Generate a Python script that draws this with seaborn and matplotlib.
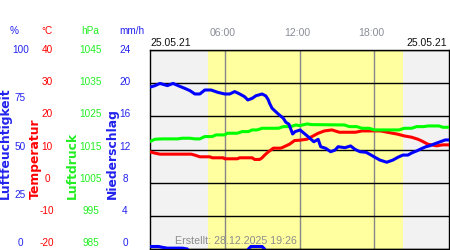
import matplotlib
matplotlib.use("Agg")
import matplotlib.pyplot as plt
import seaborn as sns
import pandas as pd
from matplotlib.transforms import ScaledTranslation

# ---------------- data ----------------
hum_t = [0.0, 0.4, 0.8, 1.4, 1.85, 2.25, 2.8, 3.2, 3.6, 4.0, 4.4, 4.9, 5.45, 6.0, 6.4, 6.8,
         7.2, 7.6, 7.85, 8.2, 8.5, 9.0, 9.3, 9.5, 9.6, 9.8, 10.3, 10.7, 10.9, 11.15, 11.45,
         11.65, 12.05, 12.7, 13.15, 13.5, 13.7, 14.1, 14.5, 14.85, 15.1, 15.65, 16.1, 16.45,
         16.85, 17.35, 17.75, 18.05, 18.45, 19.0, 19.5, 19.9, 20.3, 20.7, 21.05, 21.45, 21.85,
         22.15, 22.45, 22.95, 23.7, 24.0]
hum_v = [81.3, 82.1, 83.2, 82.1, 83.2, 82.1, 80.7, 79.6, 77.9, 77.9, 79.9, 79.9, 78.7, 77.9,
         77.9, 79.1, 77.9, 76.5, 74.9, 75.7, 77.0, 77.9, 76.9, 74.9, 73.2, 70.7, 67.8, 65.7,
         63.7, 62.7, 57.8, 59.0, 59.8, 56.4, 53.9, 55.1, 51.4, 50.6, 48.9, 49.7, 51.4, 50.9,
         51.8, 50.1, 48.9, 48.6, 47.2, 46.1, 44.7, 43.6, 44.7, 46.1, 47.2, 47.2, 48.4, 49.4,
         50.6, 51.4, 51.9, 53.1, 54.8, 54.8]

temp_t = [0.0, 0.4, 0.8, 2.0, 3.3, 3.6, 4.0, 4.8, 5.0, 5.9, 6.0, 7.0, 7.2, 8.2, 8.4, 8.8,
          9.0, 9.2, 9.5, 9.9, 10.5, 10.8, 11.2, 11.6, 12.0, 12.6, 13.0, 13.5, 14.0, 14.6,
          15.2, 16.5, 17.0, 18.5, 19.2, 19.9, 20.4, 21.0, 21.5, 21.8, 22.3, 23.0, 23.5, 24.0]
temp_v = [9.3, 8.9, 8.6, 8.6, 8.6, 8.3, 7.8, 7.8, 7.5, 7.5, 7.2, 7.2, 7.5, 7.5, 7.0, 7.0,
          7.5, 8.3, 9.3, 10.4, 10.4, 10.9, 11.6, 12.7, 12.8, 13.1, 13.9, 14.9, 15.6, 15.9,
          15.2, 15.2, 15.6, 15.6, 15.1, 14.6, 14.1, 13.7, 13.1, 12.6, 11.6, 11.1, 11.4, 11.4]

pres_t = [0.0, 0.4, 1.0, 2.2, 2.6, 3.2, 3.6, 4.0, 4.4, 5.0, 5.3, 6.0, 6.2, 7.0, 7.4, 7.9,
          8.2, 8.6, 9.0, 10.3, 10.7, 11.3, 11.7, 12.0, 12.6, 13.0, 15.6, 16.0, 16.6, 17.0,
          17.6, 18.0, 20.0, 20.4, 21.0, 21.4, 22.0, 22.3, 23.2, 23.5, 24.0]
pres_v = [1017.4, 1018.1, 1018.2, 1018.2, 1018.4, 1018.4, 1018.2, 1018.2, 1018.9, 1018.9,
          1019.4, 1019.4, 1019.9, 1019.9, 1020.4, 1020.4, 1020.9, 1020.9, 1021.4, 1021.4,
          1021.9, 1021.9, 1022.4, 1022.2, 1022.7, 1022.5, 1022.4, 1021.9, 1021.9, 1021.4,
          1021.4, 1020.9, 1020.9, 1021.4, 1021.4, 1021.9, 1021.9, 1022.1, 1022.1, 1021.7, 1021.7]

rain_t = [0.0, 0.3, 0.7, 1.0, 1.4, 2.0, 2.6, 3.0, 7.9, 8.1, 8.6, 9.0, 9.2]
rain_v = [0.3, 0.3, 0.3, 0.2, 0.1, 0.1, 0.1, 0.0, 0.0, 0.3, 0.3, 0.3, 0.0]
rain_episode = [1, 1, 1, 1, 1, 1, 1, 1, 2, 2, 2, 2, 2]

sunrise, sunset = 4.65, 20.3
time_ticks = [6, 12, 18]
time_labels = ["06:00", "12:00", "18:00"]

hum_ticks = [100, 75, 50, 25, 0]
temp_ticks = [40, 30, 20, 10, 0, -10, -20]
pres_ticks = [1045, 1035, 1025, 1015, 1005, 995, 985]
rain_ticks = [24, 20, 16, 12, 8, 4, 0]

date_label = "25.05.21"
created_label = "Erstellt: 28.12.2025 19:26"

# ---------------- style ----------------
sns.set_style("white")
plt.rcParams["font.family"] = ["Liberation Sans", "DejaVu Sans"]

BLUE = "#0000ff"
RED = "#ff0000"
GREEN = "#00ff00"
BLUE_T = "#2222ee"
GREEN_T = "#22ee22"
GRAY_T = "#8a8e98"

W, H = 450, 250
fig = plt.figure(figsize=(W / 100, H / 100), dpi=100)
fig.patch.set_facecolor("white")

def fx(x):
    return x / W

def fy(y):
    return 1 - y / H

L, T, R, B = 150, 50, 449, 249
ax = fig.add_axes([fx(L), fy(B), (R - L) / W, (B - T) / H])
ax.set_xlim(0, 24)
ax.set_ylim(-20, 40)
ax.set_facecolor("#f2f2f2")
ax.axvspan(sunrise, sunset, color="#ffffa0", lw=0, zorder=0.5)

ax.set_yticks(temp_ticks)
ax.set_yticklabels([])
ax.grid(axis="y", color="black", lw=1)
ax.set_xticks(time_ticks)
ax.set_xticklabels(time_labels)
ax.xaxis.set_ticks_position("top")
ax.grid(axis="x", color="#888888", lw=1)
ax.tick_params(axis="both", length=0)
ax.tick_params(axis="x", pad=9, labelsize=7.6, labelcolor=GRAY_T)
for lab in ax.get_xticklabels():
    lab.set_transform(lab.get_transform() + ScaledTranslation(-2.5 / 100, 0, fig.dpi_scale_trans))
for s in ax.spines.values():
    s.set_color("black")
    s.set_linewidth(1)

LW = 2.2
sns.lineplot(x=temp_t, y=temp_v, ax=ax, color=RED, lw=LW, zorder=3)
ax.set_xlabel("")
ax.set_ylabel("")

ax_p = ax.twinx()
ax_p.set_ylim(985, 1045)
ax_p.set_axis_off()
sns.lineplot(x=pres_t, y=pres_v, ax=ax_p, color=GREEN, lw=LW)

ax_h = ax.twinx()
ax_h.set_ylim(0, 100)
ax_h.set_axis_off()
sns.lineplot(x=hum_t, y=hum_v, ax=ax_h, color=BLUE, lw=LW)

ax_r = ax.twinx()
ax_r.set_ylim(0, 24)
ax_r.set_axis_off()
rain_df = pd.DataFrame({"t": rain_t, "v": rain_v, "ep": rain_episode})
sns.lineplot(data=rain_df, x="t", y="v", units="ep", estimator=None, ax=ax_r,
             color=BLUE, lw=LW)
for a in (ax_p, ax_h, ax_r):
    a.set_xlim(0, 24)

# ---------------- left scale texts ----------------
FS = 7.2
def col(ticks, top, bot, x, color):
    for v in ticks:
        frac = (top - v) / (top - bot)
        fig.text(fx(x), fy(50 + frac * 193), str(v), ha="center", va="center",
                 fontsize=FS, color=color)

col(hum_ticks, 100, 0, 20.5, BLUE_T)
col(temp_ticks, 40, -20, 47, RED)
col(pres_ticks, 1045, 985, 91, GREEN_T)
col(rain_ticks, 24, 0, 125, BLUE_T)

for txt, x, c in [("%", 14, BLUE_T), ("°C", 47, RED), ("hPa", 90, GREEN_T), ("mm/h", 132, BLUE_T)]:
    fig.text(fx(x), fy(31), txt, ha="center", va="center", fontsize=FS, color=c)

for txt, x, c in [("Luftfeuchtigkeit", 5.5, BLUE_T), ("Temperatur", 35, RED),
                  ("Luftdruck", 72, GREEN_T), ("Niederschlag", 112.5, BLUE_T)]:
    fig.text(fx(x), fy(199), txt, rotation=90, ha="center", va="bottom",
             fontsize=8.9, fontweight="bold", color=c, family="DejaVu Sans")

fig.text(fx(150), fy(43), date_label, ha="left", va="center", fontsize=7.5, color="#111111")
fig.text(fx(447), fy(43), date_label, ha="right", va="center", fontsize=7.5, color="#111111")
fig.text(fx(175), fy(241), created_label, ha="left", va="center", fontsize=7.7, color="#8c8c8c")

fig.savefig("out.png", dpi=100)
